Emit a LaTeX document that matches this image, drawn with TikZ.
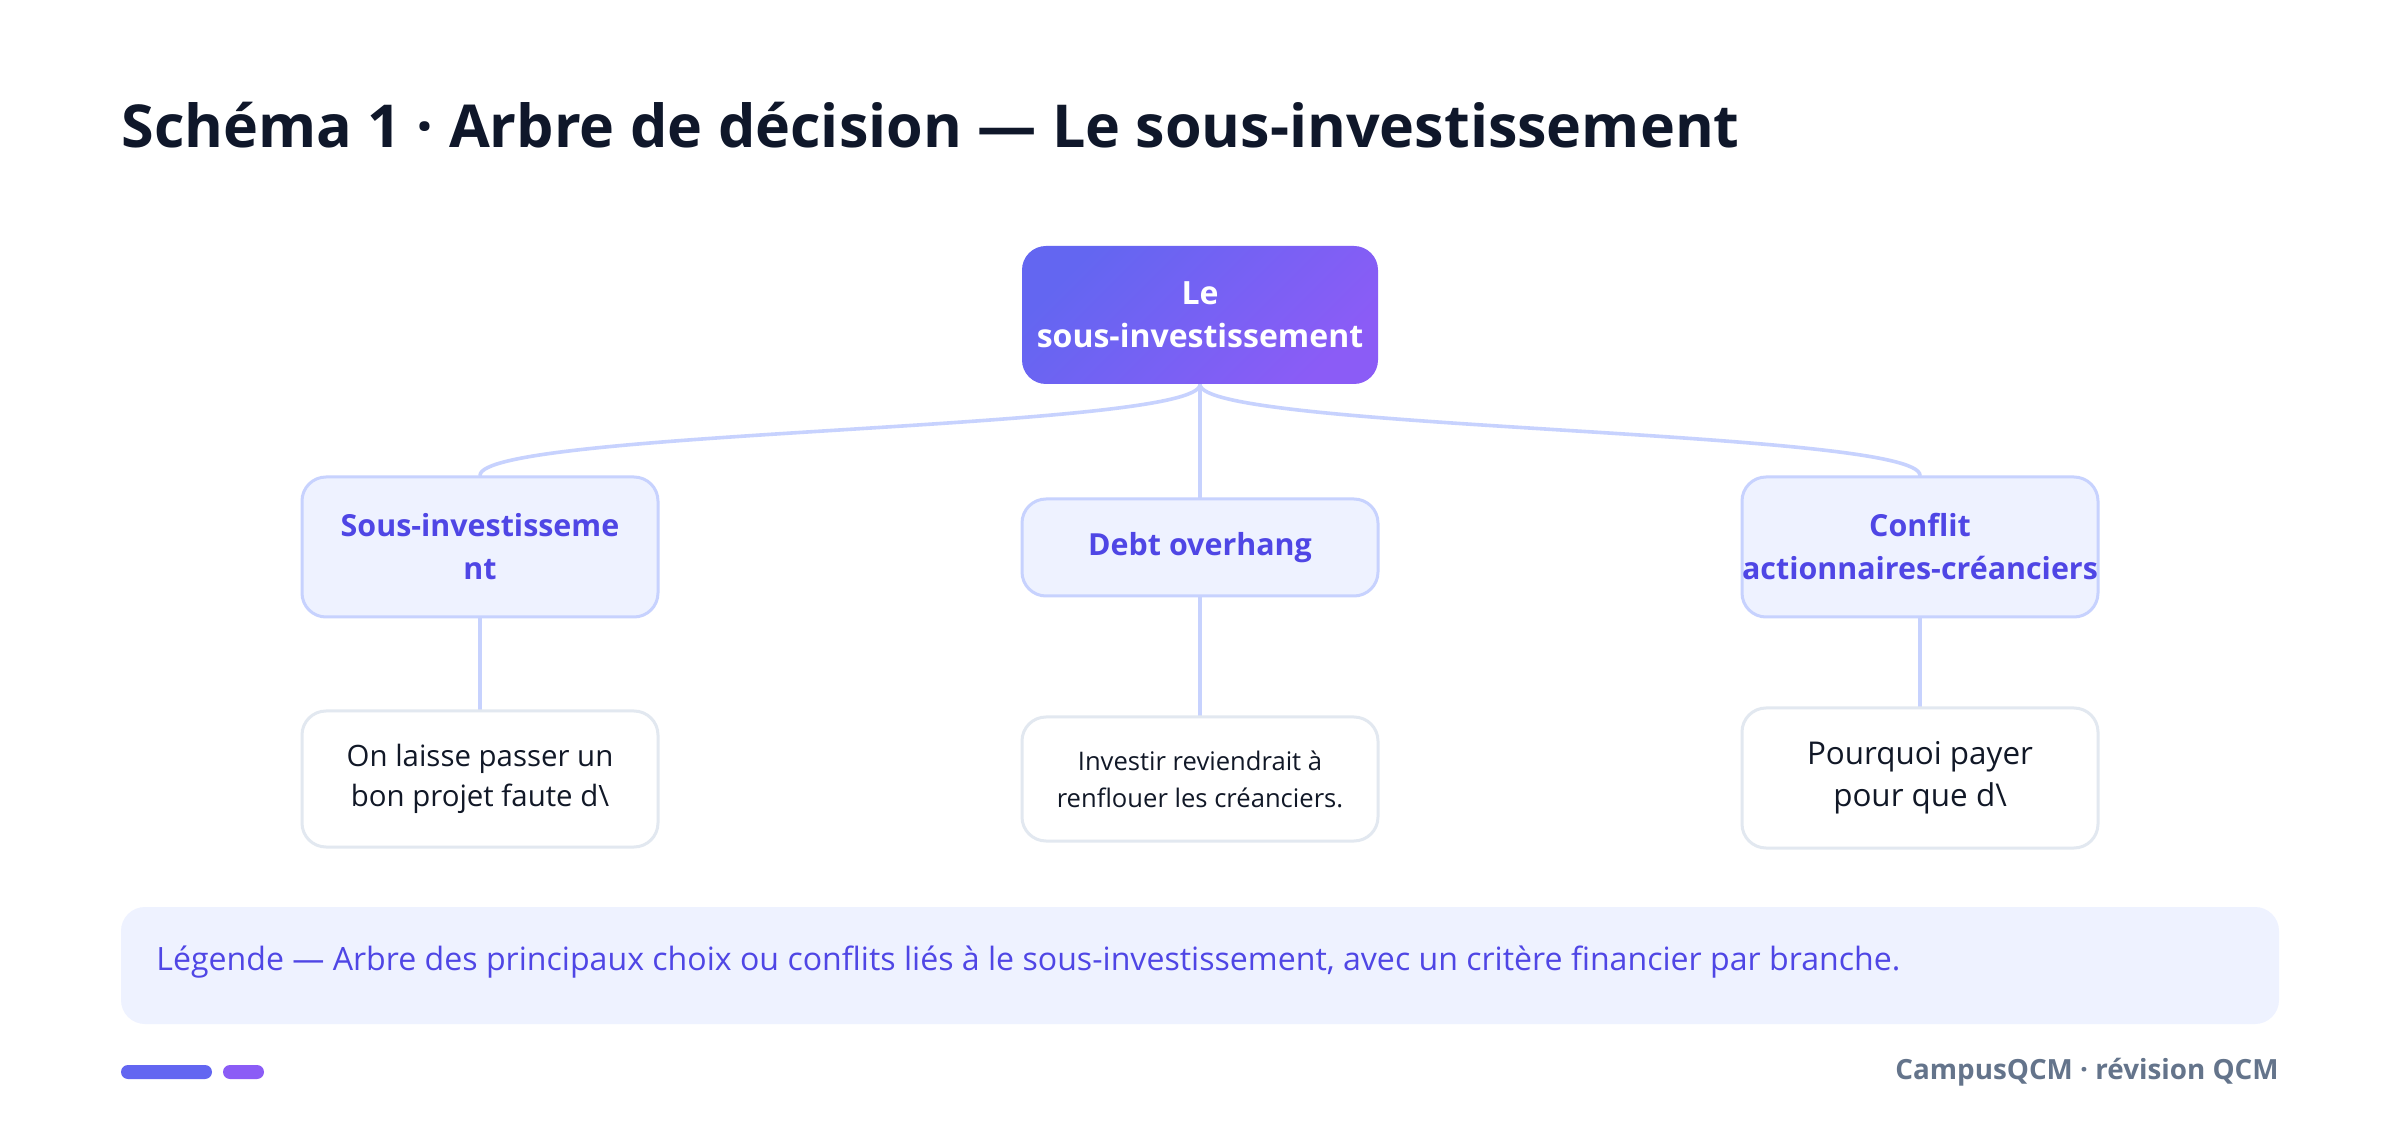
\documentclass[tikz,border=0pt]{standalone}
\usepackage{fontspec}
\setmainfont{Open Sans}
\usetikzlibrary{backgrounds}
\definecolor{titlec}{HTML}{0F172A}
\definecolor{indigoA}{HTML}{6366F1}
\definecolor{violetA}{HTML}{8B5CF6}
\definecolor{indtext}{HTML}{4F46E5}
\definecolor{lightfill}{HTML}{EEF2FF}
\definecolor{lightborder}{HTML}{C7D2FE}
\definecolor{grayborder}{HTML}{E2E8F0}
\definecolor{darktext}{HTML}{111827}
\definecolor{footgray}{HTML}{64748B}
\tikzset{
  rootbox/.style={rounded corners=12pt, minimum width=178pt, minimum height=69pt,
    top color=indigoA, bottom color=violetA, shading angle=45, text=white, align=center,
    inner sep=0pt, font=\fontsize{16}{21.5}\selectfont\bfseries},
  catbox/.style={rounded corners=12pt, minimum width=178pt, fill=lightfill, draw=lightborder,
    line width=1.5pt, text=indtext, align=center, inner sep=0pt,
    font=\fontsize{15.2}{21.5}\selectfont\bfseries},
  leafbox/.style={rounded corners=12pt, minimum width=178pt, fill=white, draw=grayborder,
    line width=1.5pt, text=darktext, align=center, inner sep=0pt},
  conn/.style={draw=lightborder, line width=1.8pt, line cap=round},
}
\begin{document}
\begin{tikzpicture}[x=0.5pt,y=-0.5pt]
\useasboundingbox (0,0) rectangle (2400,1133);
\node[anchor=base west, text=titlec, inner sep=0pt, font=\fontsize{29.6}{34}\selectfont\bfseries] (title) at (121,148) {Schéma 1 · Arbre de décision — Le sous-investissement};

\node[rootbox] (root) at (1200,315) {Le\\sous-investissement};

\node[catbox, minimum height=70pt] (cat1) at (480,547) {Sous-investisseme\\nt};
\node[catbox, minimum height=48.5pt] (cat2) at (1200,547.5) {Debt overhang};
\node[catbox, minimum height=70pt] (cat3) at (1920,547) {Conflit\\actionnaires-créanciers};

\node[leafbox, minimum height=68pt, font=\fontsize{14.7}{20}\selectfont] (leaf1) at (480,779) {On laisse passer un\\bon projet faute d\textbackslash};
\node[leafbox, minimum height=62pt, font=\fontsize{12.8}{18.5}\selectfont] (leaf2) at (1200,779) {Investir reviendrait à\\renflouer les créanciers.};
\node[leafbox, minimum height=70pt, font=\fontsize{15.7}{21}\selectfont] (leaf3) at (1920,778) {Pourquoi payer\\pour que d\textbackslash};

\node[fill=lightfill, rounded corners=12pt, minimum width=1079pt, minimum height=58.5pt, inner sep=0pt] (legend) at (1200,965.5) {};
\node[anchor=west, inner sep=0pt, text=indtext, font=\fontsize{16.05}{19}\selectfont] (legtext) at (156,962) {Légende — Arbre des principaux choix ou conflits liés à le sous-investissement, avec un critère financier par branche.};

\fill[indigoA, rounded corners=3.5pt] (121,1065) rectangle (212,1079);
\fill[violetA, rounded corners=3.5pt] (223,1065) rectangle (264,1079);
\node[anchor=east, inner sep=0pt, text=footgray, font=\fontsize{13.9}{17}\selectfont\bfseries] (foot) at (2279,1072) {CampusQCM · révision QCM};

\begin{scope}[on background layer]
\fill[white] (0,0) rectangle (2400,1133);
\draw[conn] (root.south) .. controls +(0,46) and +(0,-46) .. (cat1.north);
\draw[conn] (root.south) -- (cat2.north);
\draw[conn] (root.south) .. controls +(0,46) and +(0,-46) .. (cat3.north);
\draw[conn] (cat1.south) -- (leaf1.north);
\draw[conn] (cat2.south) -- (leaf2.north);
\draw[conn] (cat3.south) -- (leaf3.north);
\end{scope}
\end{tikzpicture}
\end{document}
